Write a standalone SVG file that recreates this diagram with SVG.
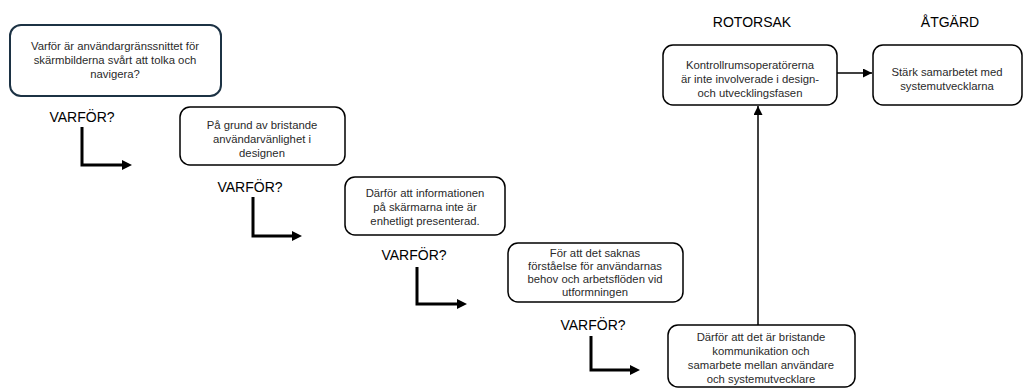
<svg xmlns="http://www.w3.org/2000/svg" width="1030" height="392" viewBox="0 0 1030 392">
  <style>
    .box { fill: #ffffff; stroke: #000000; stroke-width: 1.5; }
    .box.first { stroke: #1c3244; stroke-width: 2; }
    .txt { font-family: "Liberation Sans", Arial, sans-serif; font-size: 11.3px; fill: #2a2a2a; text-anchor: middle; }
    .why { font-family: "Liberation Sans", Arial, sans-serif; font-size: 14px; fill: #000000; text-anchor: middle; }
    .head { font-family: "Liberation Sans", Arial, sans-serif; font-size: 14px; fill: #000000; text-anchor: middle; }
    .elbow { fill: none; stroke: #000000; stroke-width: 3; }
    .tip { fill: #000000; }
    .link { fill: none; stroke: #000000; stroke-width: 1.5; }
  </style>
  <defs>
    <marker id="smallHead" viewBox="0 0 10 10" refX="10" refY="5" markerWidth="6" markerHeight="6" orient="auto" markerUnits="strokeWidth">
      <path d="M0,0 L10,5 L0,10 Z" fill="#000000"/>
    </marker>
  </defs>

  <rect width="1030" height="392" fill="#ffffff"/>

  <!-- column headings -->
  <text class="head" x="752" y="27">ROTORSAK</text>
  <text class="head" x="950" y="27">ÅTGÄRD</text>

  <!-- "why" labels between steps -->
  <text class="why" x="82" y="122">VARFÖR?</text>
  <text class="why" x="250" y="192">VARFÖR?</text>
  <text class="why" x="414" y="260">VARFÖR?</text>
  <text class="why" x="593" y="330">VARFÖR?</text>

  <g id="connectors">
    <path class="elbow" d="M82,127 V165 H124"/>
    <polygon class="tip" points="122,160 132,165 122,170"/>
    <path class="elbow" d="M253,197 V236 H294"/>
    <polygon class="tip" points="292,231 302,236 292,241"/>
    <path class="elbow" d="M417,267 V304 H459"/>
    <polygon class="tip" points="457,299 467,304 457,309"/>
    <path class="elbow" d="M591,336 V370 H632"/>
    <polygon class="tip" points="630,365 640,370 630,375"/>
    <path class="link" d="M758,325 V106" marker-end="url(#smallHead)"/>
    <path class="link" d="M837,73 H872" marker-end="url(#smallHead)"/>
  </g>

  <g id="node-problem">
    <rect class="box first" x="10" y="25" width="211" height="71" rx="11"/>
    <text class="txt" x="115" y="50">Varför är användargränssnittet för</text>
    <text class="txt" x="115" y="64">skärmbilderna svårt att tolka och</text>
    <text class="txt" x="115" y="78">navigera?</text>
  </g>

  <g id="node-why1">
    <rect class="box" x="180" y="107" width="165" height="58" rx="10"/>
    <text class="txt" x="262" y="129">På grund av bristande</text>
    <text class="txt" x="262" y="143">användarvänlighet i</text>
    <text class="txt" x="262" y="157">designen</text>
  </g>

  <g id="node-why2">
    <rect class="box" x="345" y="177" width="160" height="58" rx="10"/>
    <text class="txt" x="425" y="197">Därför att informationen</text>
    <text class="txt" x="425" y="211">på skärmarna inte är</text>
    <text class="txt" x="425" y="225">enhetligt presenterad.</text>
  </g>

  <g id="node-why3">
    <rect class="box" x="508" y="243" width="175" height="59" rx="10"/>
    <text class="txt" x="595" y="257">För att det saknas</text>
    <text class="txt" x="595" y="270">förståelse för användarnas</text>
    <text class="txt" x="595" y="283">behov och arbetsflöden vid</text>
    <text class="txt" x="595" y="296">utformningen</text>
  </g>

  <g id="node-why4">
    <rect class="box" x="668" y="325" width="187" height="62" rx="10"/>
    <text class="txt" x="761" y="341">Därför att det är bristande</text>
    <text class="txt" x="761" y="355">kommunikation och</text>
    <text class="txt" x="761" y="369">samarbete mellan användare</text>
    <text class="txt" x="761" y="383">och systemutvecklare</text>
  </g>

  <g id="node-rootcause">
    <rect class="box" x="663" y="45" width="174" height="60" rx="10"/>
    <text class="txt" x="750" y="69">Kontrollrumsoperatörerna</text>
    <text class="txt" x="750" y="83">är inte involverade i design-</text>
    <text class="txt" x="750" y="97">och utvecklingsfasen</text>
  </g>

  <g id="node-action">
    <rect class="box" x="873" y="45" width="149" height="60" rx="10"/>
    <text class="txt" x="947" y="76">Stärk samarbetet med</text>
    <text class="txt" x="947" y="90">systemutvecklarna</text>
  </g>
</svg>
